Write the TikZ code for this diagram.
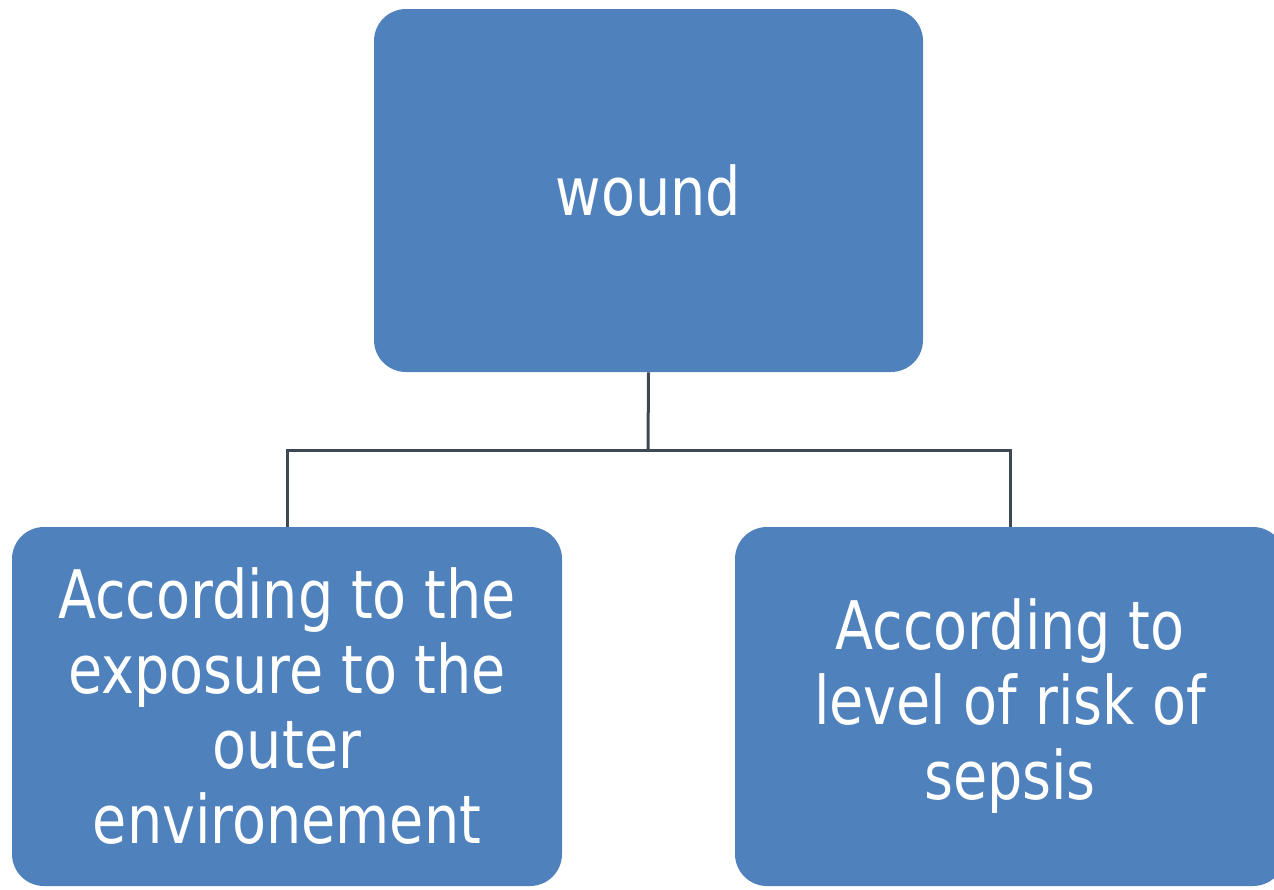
\documentclass[tikz,border=0pt]{standalone}
\usepackage{fontspec}
\setmainfont{DejaVu Sans}[FakeStretch=0.83]
\definecolor{boxblue}{HTML}{4F81BD}
\definecolor{linkgray}{HTML}{3E4853}
\begin{document}
\begin{tikzpicture}[x=0.5pt,y=-0.5pt,
  box/.style={draw=none, fill=boxblue, rounded corners=16pt,
    minimum width=275pt, minimum height=179.5pt, inner sep=0pt,
    text=white, align=center,
    font=\fontsize{33.5pt}{37.5pt}\selectfont},
  link/.style={draw=linkgray, line width=1.5pt}]
\useasboundingbox (0,0) rectangle (1274,889);
\clip (0,0) rectangle (1274,889);
% boxes
\node[box, minimum width=274.5pt, minimum height=181.5pt] (root) at (648.5,190.5) {wound};
\node[box] (left) at (287,706.5) {According to the\\exposure to the\\outer\\environement};
\node[box] (right) at (1010,706.5) {According to\\level of risk of\\sepsis};
% tree connectors
\coordinate (fork) at (648,450);
\draw[link] (root.south) -- (fork);
\draw[link] (left.north) |- (fork) -| (right.north);
\end{tikzpicture}
\end{document}
